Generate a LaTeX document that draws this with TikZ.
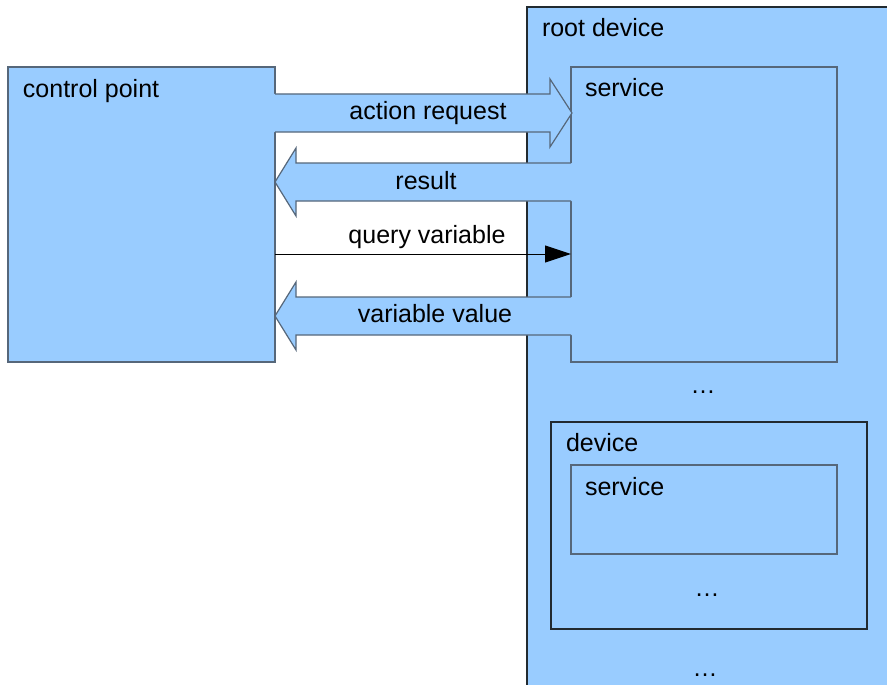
\documentclass[tikz,border=0pt]{standalone}
\usepackage{fontspec}
\setmainfont{Liberation Sans}
\usetikzlibrary{arrows.meta}
\definecolor{boxblue}{HTML}{99CCFF}
\definecolor{edgegray}{HTML}{56677A}
\definecolor{edgedark}{HTML}{222A30}
\begin{document}
\begin{tikzpicture}[x=1pt,y=-1pt,
  lbl/.style={inner sep=0pt, outer sep=0pt, font=\fontsize{25}{29}\selectfont, text=black},
  box/.style={fill=boxblue, draw=edgegray, line width=1.2pt, inner sep=0pt, outer sep=0pt, anchor=north west},
  darkbox/.style={box, draw=edgedark},
  arrowfill/.style={fill=boxblue},
  arrowedge/.style={draw=edgegray, line width=1.2pt, line join=miter},
  thinarrow/.style={draw=black, line width=1pt, -{Triangle[length=26pt,width=17pt]}}]
\useasboundingbox (0,0) rectangle (887,685);
\fill[white] (0,0) rectangle (887,685);
% root device (extends beyond the picture)
\begin{scope}
\clip (0,0) rectangle (887,685);
\node[darkbox, minimum width=400pt, minimum height=720pt] (root) at (527,7) {};
\end{scope}
% boxes
\node[box, minimum width=267pt, minimum height=295pt] (cp) at (8,67) {};
\node[box, minimum width=266pt, minimum height=295pt] (svc) at (571,67) {};
\node[darkbox, minimum width=316pt, minimum height=207pt] (dev) at (551,422) {};
\node[box, minimum width=266pt, minimum height=89pt] (svc2) at (571,465) {};
% action request block arrow
\fill[arrowfill] (270,94) -- (550,94) -- (550,79) -- (572,113) -- (550,147) -- (550,132) -- (270,132) -- cycle;
\draw[arrowedge] (275,94) -- (550,94) -- (550,79) -- (572,113) -- (550,147) -- (550,132) -- (275,132);
% result block arrow
\fill[arrowfill] (600,163) -- (296,163) -- (296,148) -- (275,182) -- (296,216) -- (296,201) -- (600,201) -- cycle;
\draw[arrowedge] (571,163) -- (296,163) -- (296,148) -- (275,182) -- (296,216) -- (296,201) -- (571,201);
% variable value block arrow
\fill[arrowfill] (600,297) -- (296,297) -- (296,282) -- (275,316) -- (296,350) -- (296,335) -- (600,335) -- cycle;
\draw[arrowedge] (571,297) -- (296,297) -- (296,282) -- (275,316) -- (296,350) -- (296,335) -- (571,335);
% query variable
\coordinate (qs) at (275,254);
\coordinate (qe) at (571,254);
\draw[thinarrow] (qs) -- (qe);
% labels
\node[lbl, anchor=base west] (tcp) at (23,98) {control point};
\node[lbl, anchor=base west] (troot) at (542,37) {root device};
\node[lbl, anchor=base west] (tsvc) at (585,96) {service};
\node[lbl, anchor=base] (tact) at (428,119) {action request};
\node[lbl, anchor=base] (tres) at (426,189) {result};
\node[lbl, anchor=base] (tq) at (427,243) {query variable};
\node[lbl, anchor=base] (tvv) at (435,322) {variable value};
\node[lbl, anchor=base] (dots1) at (703,393) {…};
\node[lbl, anchor=base west] (tdev) at (566,451) {device};
\node[lbl, anchor=base west] (tsvc2) at (585,495) {service};
\node[lbl, anchor=base] (dots2) at (707,596) {…};
\node[lbl, anchor=base] (dots3) at (705,676) {…};
\end{tikzpicture}
\end{document}
